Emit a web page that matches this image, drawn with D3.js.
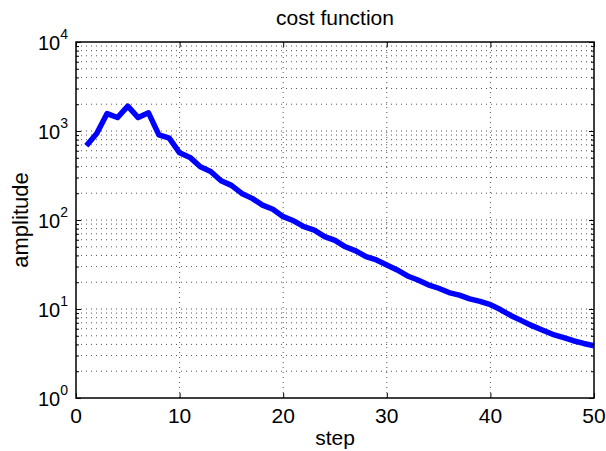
<!DOCTYPE html>
<html>
<head>
<meta charset="utf-8">
<script src="https://cdnjs.cloudflare.com/ajax/libs/d3/7.8.5/d3.min.js"></script>
<style>
  body { margin: 0; background: #fff; }
  text { font-family: "Liberation Sans", Arial, Helvetica, sans-serif; fill: #000; }
</style>
</head>
<body>
<div id="chart"></div>
<script>
// values (step 1..50)
const steps = d3.range(1, 51)
const cost = [
    682, 937, 1570, 1416, 1900, 1416, 1600, 906, 831, 569,
    505, 396, 351, 276, 245, 199, 175, 147, 132, 109,
    98, 84, 77, 65, 59, 50, 45, 38.8, 35.6, 31.3,
    27.5, 23.5, 21.2, 18.7, 17.1, 15.3, 14.3, 13.0, 12.2, 11.2,
    9.8, 8.4, 7.4, 6.5, 5.8, 5.2, 4.8, 4.4, 4.1, 3.86
]
const xTicks = [0, 10, 20, 30, 40, 50]
const yExponents = [0, 1, 2, 3, 4]

const dimensions = {
    width: 606,
    height: 451,
    margin: { top: 42, right: 12, bottom: 53, left: 76 },
}
dimensions.boundedWidth = dimensions.width - dimensions.margin.left - dimensions.margin.right
dimensions.boundedHeight = dimensions.height - dimensions.margin.top - dimensions.margin.bottom

const svg = d3.select("#chart").append("svg")
    .attr("width", dimensions.width)
    .attr("height", dimensions.height)

const bounds = svg.append("g")
    .attr("transform", `translate(${dimensions.margin.left},${dimensions.margin.top})`)

const xScale = d3.scaleLinear()
    .domain([0, 50])
    .range([0, dimensions.boundedWidth])

const yScale = d3.scaleLog()
    .domain([1, 1e4])
    .range([dimensions.boundedHeight, 0])

// minor values 2..9 in every decade
const minorVals = []
yExponents.slice(0, -1).forEach(e => {
    for (let k = 2; k <= 9; k++) minorVals.push(k * Math.pow(10, e))
})
const majorVals = yExponents.map(e => Math.pow(10, e))

// grid
const grid = bounds.append("g").attr("class", "grid")
grid.selectAll(".hminor")
    .data(minorVals.concat(majorVals.slice(1, -1)))
    .join("line")
    .attr("x1", 0).attr("x2", dimensions.boundedWidth)
    .attr("y1", d => yScale(d)).attr("y2", d => yScale(d))
    .attr("stroke", "#555")
    .attr("stroke-width", 1)
    .attr("stroke-dasharray", "1,4")
grid.selectAll(".vgrid")
    .data(xTicks.slice(1, -1))
    .join("line")
    .attr("x1", d => xScale(d)).attr("x2", d => xScale(d))
    .attr("y1", 0).attr("y2", dimensions.boundedHeight)
    .attr("stroke", "#555")
    .attr("stroke-width", 1)
    .attr("stroke-dasharray", "1,4")

// line
const lineGenerator = d3.line()
    .x((d, i) => xScale(steps[i]))
    .y(d => yScale(d))

bounds.append("path")
    .attr("d", lineGenerator(cost))
    .attr("fill", "none")
    .attr("stroke", "#0000ff")
    .attr("stroke-width", 5.5)
    .attr("stroke-linejoin", "round")

// axes, ticks inward on all four sides
const tickOpts = (axis, size, vals) => axis.tickValues(vals).tickSize(size).tickFormat("")

bounds.append("g")
    .attr("transform", `translate(0,${dimensions.boundedHeight})`)
    .call(tickOpts(d3.axisTop(xScale), 5, xTicks))
bounds.append("g")
    .call(tickOpts(d3.axisBottom(xScale), 5, xTicks))
bounds.append("g")
    .call(tickOpts(d3.axisRight(yScale), 5, majorVals))
bounds.append("g")
    .call(tickOpts(d3.axisRight(yScale), 3, minorVals))
bounds.append("g")
    .attr("transform", `translate(${dimensions.boundedWidth},0)`)
    .call(tickOpts(d3.axisLeft(yScale), 5, majorVals))
bounds.append("g")
    .attr("transform", `translate(${dimensions.boundedWidth},0)`)
    .call(tickOpts(d3.axisLeft(yScale), 3, minorVals))

bounds.selectAll(".domain").remove()
bounds.selectAll(".tick line").attr("stroke", "#000").attr("stroke-width", 1)

bounds.append("rect")
    .attr("width", dimensions.boundedWidth)
    .attr("height", dimensions.boundedHeight)
    .attr("fill", "none")
    .attr("stroke", "#000")
    .attr("stroke-width", 1.5)

// tick labels
bounds.selectAll(".xlabel")
    .data(xTicks)
    .join("text")
    .attr("x", d => xScale(d))
    .attr("y", dimensions.boundedHeight + 25)
    .attr("text-anchor", "middle")
    .style("font-size", "21px")
    .text(d => d)

const yLab = bounds.selectAll(".ylabel")
    .data(yExponents)
    .join("text")
    .attr("x", -8)
    .attr("y", d => yScale(Math.pow(10, d)) + 8)
    .attr("text-anchor", "end")
    .style("font-size", "20px")
yLab.append("tspan").text("10")
yLab.append("tspan")
    .attr("dy", -11)
    .style("font-size", "14px")
    .text(d => d)

// titles
svg.append("text")
    .attr("x", dimensions.margin.left + dimensions.boundedWidth / 2)
    .attr("y", 25)
    .attr("text-anchor", "middle")
    .style("font-size", "21px")
    .text("cost function")

svg.append("text")
    .attr("x", dimensions.margin.left + dimensions.boundedWidth / 2)
    .attr("y", dimensions.margin.top + dimensions.boundedHeight + 47)
    .attr("text-anchor", "middle")
    .style("font-size", "21px")
    .text("step")

svg.append("text")
    .attr("transform", `translate(28,${dimensions.margin.top + dimensions.boundedHeight / 2}) rotate(-90)`)
    .attr("text-anchor", "middle")
    .style("font-size", "22px")
    .text("amplitude")
</script>
</body>
</html>
